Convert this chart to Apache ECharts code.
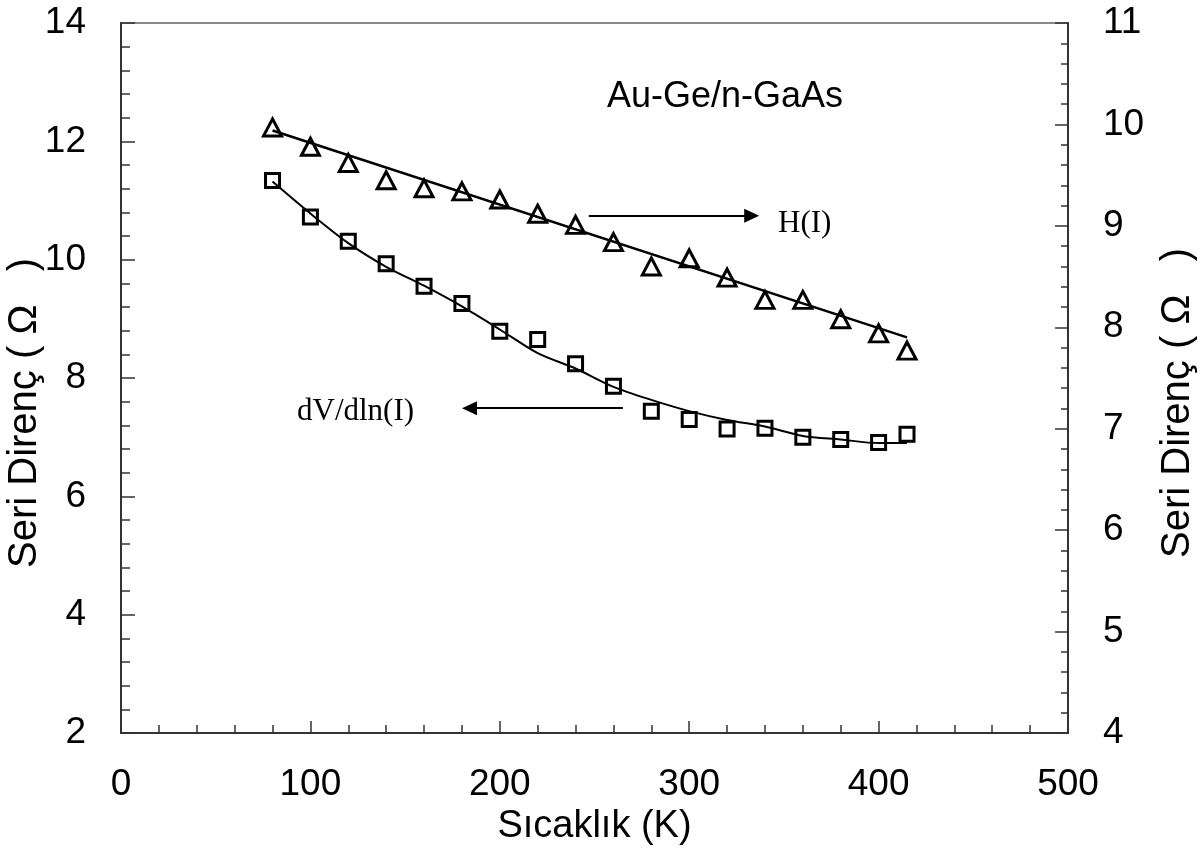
<!DOCTYPE html>
<html>
<head>
<meta charset="utf-8">
<script src="https://cdn.jsdelivr.net/npm/echarts@6/dist/echarts.min.js"></script>
<style>
html,body{margin:0;padding:0;background:#fff;}
#chart{width:1200px;height:851px;}
</style>
</head>
<body>
<div id="chart"></div>
<script>
// Data
const temps = [80,100,120,140,160,180,200,220,240,260,280,300,320,340,360,380,400,415];
const dvPoints = [11.34,10.72,10.31,9.93,9.55,9.26,8.79,8.65,8.24,7.86,7.44,7.30,7.14,7.15,7.00,6.96,6.91,7.05];
const hPoints = [9.97,9.78,9.62,9.45,9.37,9.34,9.26,9.12,9.01,8.84,8.60,8.68,8.49,8.27,8.27,8.08,7.94,7.77];
const dvFitT = [80,100,120,140,160,180,200,220,240,260,280,300,320,340,360,380,400,415];
const dvFit = [11.32,10.78,10.28,9.88,9.56,9.21,8.82,8.42,8.16,7.85,7.63,7.44,7.29,7.18,7.02,6.96,6.90,6.90];
const hFitT = [80,415];
const hFit = [9.94,7.90];
const xTicks = [0,100,200,300,400,500];
const leftTicks = [2,4,6,8,10,12,14];
const rightTicks = [4,5,6,7,8,9,10,11];
// annotation arrows (data coordinates)
const hArrow = {x:[247,333], y:9.10};
const dvArrow = {x:[265,184], y:7.49};

const pair = (xs, ys) => xs.map((x,i)=>[x, ys[i]]);
const sans = '"Liberation Sans", Arial, sans-serif';
const serif = '"Liberation Serif", "Times New Roman", serif';
const axisCol = '#333';

const chart = echarts.init(document.getElementById('chart'));
chart.setOption({
  animation:false,
  backgroundColor:'#fff',
  grid:{left:121,right:132,top:23,bottom:118,show:true,borderColor:'#888',borderWidth:2,
        containLabel:false,outerBoundsMode:'none'},
  xAxis:{
    type:'value',min:xTicks[0],max:xTicks[xTicks.length-1],interval:100,
    name:'Sıcaklık (K)',nameLocation:'middle',nameGap:64,
    nameTextStyle:{fontFamily:sans,fontSize:38,color:'#000'},
    axisLine:{show:true,onZero:false,lineStyle:{color:axisCol,width:2}},
    axisTick:{show:true,inside:true,length:12,lineStyle:{color:axisCol,width:1.5}},
    minorTick:{show:true,splitNumber:5,length:8,lineStyle:{color:axisCol,width:1.5}},
    splitLine:{show:false},
    axisLabel:{fontFamily:sans,fontSize:37,color:'#000',margin:33}
  },
  yAxis:[{
    type:'value',min:leftTicks[0],max:leftTicks[leftTicks.length-1],interval:2,position:'left',
    name:'Seri Direnç ( Ω   )',nameLocation:'middle',nameGap:76,nameRotate:90,
    nameMoveOverlap:false,
    nameTextStyle:{fontFamily:sans,fontSize:40,color:'#000',padding:[0,70,0,0]},
    axisLine:{show:true,lineStyle:{color:axisCol,width:2}},
    axisTick:{show:true,inside:true,length:14,lineStyle:{color:axisCol,width:1.5}},
    minorTick:{show:true,splitNumber:5,length:9,lineStyle:{color:axisCol,width:1.5}},
    splitLine:{show:false},
    axisLabel:{fontFamily:sans,fontSize:37,color:'#000',margin:35}
  },{
    type:'value',min:rightTicks[0],max:rightTicks[rightTicks.length-1],interval:1,position:'right',
    name:'Seri Direnç ( Ω   )',nameLocation:'middle',nameGap:90,nameRotate:90,
    nameMoveOverlap:false,
    nameTextStyle:{fontFamily:sans,fontSize:40,color:'#000',padding:[0,50,0,0]},
    axisLine:{show:true,lineStyle:{color:axisCol,width:2}},
    axisTick:{show:true,inside:true,length:13,lineStyle:{color:axisCol,width:1.5}},
    minorTick:{show:true,splitNumber:5,length:7,lineStyle:{color:axisCol,width:1.5}},
    splitLine:{show:false},
    axisLabel:{fontFamily:sans,fontSize:37,color:'#000',margin:35}
  }],
  series:[
    {
      name:'dV/dln(I) fit',type:'line',yAxisIndex:0,smooth:0.3,showSymbol:false,
      data:pair(dvFitT,dvFit),lineStyle:{color:'#000',width:2},z:2,
      markLine:{
        silent:true,symbol:['none','triangle'],symbolSize:[14,15],
        lineStyle:{color:'#000',width:2,type:'solid'},label:{show:false},
        data:[[{coord:[dvArrow.x[0],dvArrow.y]},{coord:[dvArrow.x[1],dvArrow.y]}]]
      }
    },
    {
      name:'dV/dln(I)',type:'scatter',yAxisIndex:0,symbol:'rect',symbolSize:14,
      data:pair(temps,dvPoints),
      itemStyle:{color:'rgba(0,0,0,0)',borderColor:'#000',borderWidth:3,opacity:1},z:3
    },
    {
      name:'H(I) fit',type:'line',yAxisIndex:1,showSymbol:false,
      data:pair(hFitT,hFit),lineStyle:{color:'#000',width:2.5},z:2,
      markLine:{
        silent:true,symbol:['none','triangle'],symbolSize:[14,15],
        lineStyle:{color:'#000',width:2,type:'solid'},label:{show:false},
        data:[[{coord:[hArrow.x[0],hArrow.y]},{coord:[hArrow.x[1],hArrow.y]}]]
      }
    },
    {
      name:'H(I)',type:'scatter',yAxisIndex:1,symbol:'triangle',symbolSize:[18,17],
      data:pair(temps,hPoints),
      itemStyle:{color:'rgba(0,0,0,0)',borderColor:'#000',borderWidth:3,opacity:1},z:3
    }
  ],
  graphic:[
    {type:'text',left:607,top:79,style:{text:'Au-Ge/n-GaAs',font:'36px '+sans,fill:'#000'}},
    {type:'text',left:778,top:208,style:{text:'H(I)',font:'31px '+serif,fill:'#000'}},
    {type:'text',left:297,top:396,style:{text:'dV/dln(I)',font:'31px '+serif,fill:'#000'}}
  ]
});
</script>
</body>
</html>
